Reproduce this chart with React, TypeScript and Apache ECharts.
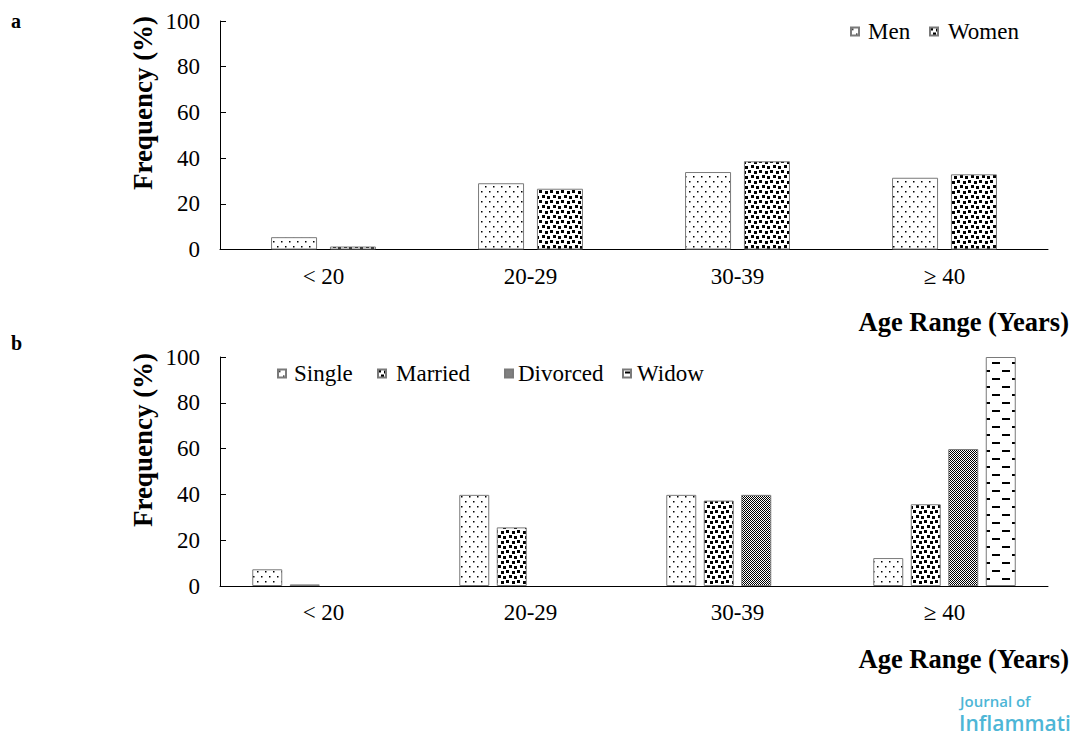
import React, { useEffect, useRef } from "react";
import * as echarts from "echarts";

// ---- Data ----
const ageCategories = ["< 20", "20-29", "30-39", "\u2265 40"];
const genderNames = ["Men", "Women"];
const menValues = [5.4, 29.0, 33.9, 31.4];
const womenValues = [1.3, 26.6, 38.6, 32.9];
const maritalNames = ["Single", "Married", "Divorced", "Widow"];
const singleValues = [7.3, 39.8, 39.8, 12.2];
const marriedValues = [0.7, 25.6, 37.3, 35.7];
const divorcedValues: (number | string)[] = ["-", "-", 39.8, 59.8];
const widowValues: (number | string)[] = ["-", "-", "-", 100];
const yMin = 0;
const yMax = 100;
const yInterval = 20;

const SERIF = '"Liberation Serif", "Times New Roman", Times, serif';

function makeTile(w: number, h: number, draw: (ctx: CanvasRenderingContext2D) => void) {
  const c = document.createElement("canvas");
  c.width = w;
  c.height = h;
  const ctx = c.getContext("2d")!;
  ctx.fillStyle = "#ffffff";
  ctx.fillRect(0, 0, w, h);
  ctx.fillStyle = "#000000";
  draw(ctx);
  return { image: c.toDataURL(), repeat: "repeat", imageWidth: w, imageHeight: h };
}

export default function App() {
  const ref = useRef<HTMLDivElement>(null);

  useEffect(() => {
    if (!ref.current) return;
    const chart = echarts.init(ref.current, undefined, { renderer: "svg" });

    const dots = makeTile(8, 10, (ctx) => {
      ctx.fillRect(1, 1, 1.5, 1.5);
      ctx.fillRect(5, 6, 1.5, 1.5);
    });
    const confetti = makeTile(11, 10, (ctx) => {
      ctx.fillRect(0, 0, 3, 3);
      ctx.fillRect(6, 1, 3, 3);
      ctx.fillRect(3, 5, 3, 3);
      ctx.fillRect(8, 6, 3, 3);
    });
    const checker = makeTile(2, 2, (ctx) => {
      ctx.fillRect(0, 0, 1, 1);
      ctx.fillRect(1, 1, 1, 1);
    });
    const dashes = makeTile(20, 16, (ctx) => {
      ctx.fillRect(2, 2, 8, 2);
      ctx.fillRect(12, 10, 8, 2);
    });

    const border = { borderColor: "#7a7a7a", borderWidth: 1 };

    const mkSeries = (
      name: string,
      data: (number | string)[],
      fill: any,
      axisIndex: number,
      barWidth: number,
      barGap: string
    ) => ({
      type: "bar",
      name,
      data,
      xAxisIndex: axisIndex,
      yAxisIndex: axisIndex,
      barWidth,
      barGap,
      itemStyle: { color: fill, ...border },
      emphasis: { disabled: true },
    });

    const yAxisBase = (gridIndex: number) => ({
      type: "value",
      gridIndex,
      min: yMin,
      max: yMax,
      interval: yInterval,
      splitLine: { show: false },
      axisLine: { show: true, lineStyle: { color: "#000", width: 1 } },
      axisTick: { show: true, inside: true, length: 6, lineStyle: { color: "#000" } },
      axisLabel: { color: "#000", fontFamily: SERIF, fontSize: 23, margin: 20 },
    });

    const xAxisBase = (gridIndex: number) => ({
      type: "category",
      gridIndex,
      data: ageCategories,
      axisLine: { show: true, lineStyle: { color: "#000", width: 1 } },
      axisTick: { show: false },
      axisLabel: { color: "#000", fontFamily: SERIF, fontSize: 23, margin: 15 },
    });

    const legendItem = (name: string, left: number, top: number, padLeft: number) => ({
      data: [name],
      left,
      top,
      padding: 0,
      itemWidth: 8,
      itemHeight: 8,
      icon: "rect",
      selectedMode: false,
      textStyle: {
        color: "#000",
        fontFamily: SERIF,
        fontSize: 23,
        padding: [0, 0, 0, padLeft],
      },
    });

    const titleText = (text: string, x: number, y: number, rot: number, align: string, size: number) => ({
      type: "text",
      x,
      y,
      rotation: rot,
      style: {
        text,
        fill: "#000",
        font: `bold ${size}px ${SERIF}`,
        align,
        verticalAlign: "middle",
      },
    });

    chart.setOption({
      animation: false,
      grid: [
        { left: 220, top: 21, width: 828, height: 228.5 },
        { left: 220, top: 357, width: 828, height: 229 },
      ],
      xAxis: [xAxisBase(0), xAxisBase(1)],
      yAxis: [yAxisBase(0), yAxisBase(1)],
      legend: [
        legendItem(genderNames[0], 850, 20, 4),
        legendItem(genderNames[1], 929, 20, 5),
        legendItem(maritalNames[0], 277, 362, 3),
        legendItem(maritalNames[1], 377, 362, 5),
        legendItem(maritalNames[2], 504, 362, 0),
        legendItem(maritalNames[3], 622, 362, 1),
      ],
      series: [
        mkSeries(genderNames[0], menValues, dots, 0, 46, "28%"),
        mkSeries(genderNames[1], womenValues, confetti, 0, 46, "28%"),
        mkSeries(maritalNames[0], singleValues, dots, 1, 30, "25%"),
        mkSeries(maritalNames[1], marriedValues, confetti, 1, 30, "25%"),
        mkSeries(maritalNames[2], divorcedValues, checker, 1, 30, "25%"),
        mkSeries(maritalNames[3], widowValues, dashes, 1, 30, "25%"),
      ],
      graphic: [
        { type: "text", x: 11, y: 21, style: { text: "a", fill: "#000", font: `bold 20px ${SERIF}`, align: "left", verticalAlign: "middle" } },
        { type: "text", x: 11, y: 343, style: { text: "b", fill: "#000", font: `bold 20px ${SERIF}`, align: "left", verticalAlign: "middle" } },
        titleText("Frequency (%)", 143, 103, Math.PI / 2, "center", 27),
        titleText("Frequency (%)", 143, 440, Math.PI / 2, "center", 27),
        titleText("Age Range (Years)", 1069, 322, 0, "right", 26.5),
        titleText("Age Range (Years)", 1069, 659, 0, "right", 26.5),
        {
          type: "text",
          x: 960,
          y: 701,
          style: { text: "Journal of", fill: "#4db6d6", font: '600 15px "Open Sans", sans-serif', align: "left", verticalAlign: "middle" },
        },
        {
          type: "text",
          x: 959,
          y: 723,
          style: { text: "Inflammation", fill: "#4db6d6", font: '600 21px "Open Sans", sans-serif', align: "left", verticalAlign: "middle" },
        },
      ],
    });

    return () => chart.dispose();
  }, []);

  return (
    <div
      ref={ref}
      style={{ position: "fixed", left: 0, top: 0, width: 1071, height: 735, background: "#fff" }}
    />
  );
}
